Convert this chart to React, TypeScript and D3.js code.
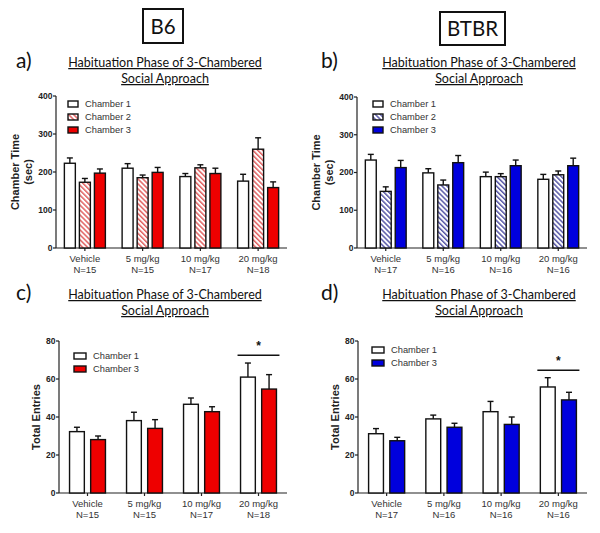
import React from "react";
import * as d3 from "d3";

const groups = ["Vehicle", "5 mg/kg", "10 mg/kg", "20 mg/kg"];
const nB6 = ["N=15", "N=15", "N=17", "N=18"];
const nBTBR = ["N=17", "N=16", "N=16", "N=16"];
const timeSeries = ["Chamber 1", "Chamber 2", "Chamber 3"];
const entrySeries = ["Chamber 1", "Chamber 3"];
const timeTicks = [0, 100, 200, 300, 400];
const entryTicks = [0, 20, 40, 60, 80];

// panel a: B6 chamber time (mean, upper error)
const aMean = [
  [223, 173, 197],
  [210, 185, 199],
  [188, 211, 196],
  [176, 260, 159],
];
const aErr = [
  [237, 183, 208],
  [222, 192, 212],
  [196, 219, 210],
  [194, 290, 174],
];
// panel b: BTBR chamber time
const bMean = [
  [233, 150, 213],
  [199, 167, 226],
  [189, 189, 218],
  [182, 194, 218],
];
const bErr = [
  [248, 162, 232],
  [210, 180, 245],
  [201, 197, 233],
  [195, 204, 238],
];
// panel c: B6 total entries
const cMean = [
  [32.3, 28.1],
  [38.1, 34.0],
  [46.7, 42.8],
  [61.0, 54.7],
];
const cErr = [
  [34.6, 30.0],
  [42.5, 38.6],
  [50.0, 45.4],
  [68.4, 62.3],
];
// panel d: BTBR total entries
const dMean = [
  [31.2, 27.5],
  [39.0, 34.6],
  [42.8, 36.1],
  [55.8, 49.0],
];
const dErr = [
  [33.9, 29.3],
  [41.0, 36.7],
  [48.2, 40.0],
  [60.7, 53.0],
];
const cSig = 72.5;
const dSig = 64.6;

const RED = "#ee0000";
const BLUE = "#0000dd";
const TITLE_FONT = "Lato, 'Open Sans', sans-serif";
const ARIAL = "'Liberation Sans', Arial, sans-serif";

type PanelProps = {
  letter: string;
  letterX: number;
  titleX: number;
  titleY: number;
  x0: number;
  x1: number;
  y0: number;
  y1: number;
  domainMax: number;
  ticks: number[];
  series: string[];
  mean: number[][];
  err: number[][];
  fills: string[];
  ns: string[];
  yLabel: string[];
  yLabelX: number[];
  legendX: number;
  legendY: number;
  legendStep: number;
  legendW: number;
  groupPad: number;
  barPad: number;
  sig?: number;
};

function Panel(p: PanelProps) {
  const x = d3.scaleBand<string>().domain(groups).range([p.x0, p.x1]).paddingInner(p.groupPad).paddingOuter(p.groupPad / 2);
  const xs = d3.scaleBand<string>().domain(p.series).range([0, x.bandwidth()]).paddingInner(p.barPad);
  const y = d3.scaleLinear().domain([0, p.domainMax]).range([p.y0, p.y1]);
  const yMid = (p.y0 + p.y1) / 2;
  return (
    <g>
      <text x={p.letterX} y={p.titleY + 1} fontFamily={TITLE_FONT} fontSize={21} fill="#111">{p.letter}</text>
      <text x={p.titleX} y={p.titleY} textAnchor="middle" fontFamily={TITLE_FONT} fontSize={12.5} fill="#111" textDecoration="underline">Habituation Phase of 3-Chambered </text>
      <text x={p.titleX} y={p.titleY + 16} textAnchor="middle" fontFamily={TITLE_FONT} fontSize={12.5} fill="#111" textDecoration="underline">Social Approach</text>
      {/* y axis */}
      <line x1={p.x0} x2={p.x0} y1={p.y0} y2={p.y1} stroke="#222" strokeWidth={1.2} />
      {p.ticks.map((t) => (
        <g key={t}>
          <line x1={p.x0 - 3} x2={p.x0} y1={y(t)} y2={y(t)} stroke="#222" strokeWidth={1.2} />
          <text x={p.x0 - 3.5} y={y(t)} dy="0.35em" textAnchor="end" fontFamily={ARIAL} fontWeight="bold" fontSize={8.5} fill="#222">{t}</text>
        </g>
      ))}
      {p.yLabel.map((l, i) => (
        <text key={l} transform={`translate(${p.yLabelX[i]},${yMid}) rotate(-90)`} textAnchor="middle" fontFamily={ARIAL} fontWeight="bold" fontSize={11} fill="#222" dy="0.35em">{l}</text>
      ))}
      {/* x axis */}
      <line x1={p.x0} x2={p.x1} y1={p.y0} y2={p.y0} stroke="#222" strokeWidth={1.2} />
      {groups.map((g, gi) => {
        const cx = (x(g) as number) + x.bandwidth() / 2;
        return (
          <g key={g}>
            <line x1={cx} x2={cx} y1={p.y0} y2={p.y0 + 3} stroke="#222" strokeWidth={1.2} />
            <text x={cx} y={p.y0 + 14} textAnchor="middle" fontFamily={ARIAL} fontSize={9.5} fill="#333">{g}</text>
            <text x={cx} y={p.y0 + 25} textAnchor="middle" fontFamily={ARIAL} fontSize={9.5} fill="#333">{p.ns[gi]}</text>
            {p.series.map((s, si) => {
              const bx = (x(g) as number) + (xs(s) as number);
              const bw = xs.bandwidth();
              const top = y(p.mean[gi][si]);
              const et = y(p.err[gi][si]);
              return (
                <g key={s}>
                  <line x1={bx + bw / 2} x2={bx + bw / 2} y1={top} y2={et} stroke="#111" strokeWidth={1.4} />
                  <line x1={bx + bw / 2 - 3} x2={bx + bw / 2 + 3} y1={et} y2={et} stroke="#111" strokeWidth={1.4} />
                  <rect x={bx} y={top} width={bw} height={p.y0 - top} fill={p.fills[si]} stroke="#111" strokeWidth={1.4} />
                </g>
              );
            })}
          </g>
        );
      })}
      {/* legend */}
      {p.series.map((s, si) => (
        <g key={s}>
          <rect x={p.legendX} y={p.legendY + si * p.legendStep - 3} width={p.legendW} height={6} fill={p.fills[si]} stroke="#111" strokeWidth={1.4} />
          <text x={p.legendX + p.legendW + 7} y={p.legendY + si * p.legendStep} dy="0.35em" fontFamily={ARIAL} fontSize={9.3} fill="#333">{s}</text>
        </g>
      ))}
      {p.sig !== undefined && (() => {
        const g = groups[3];
        const gx = x(g) as number;
        const sy = y(p.sig);
        return (
          <g>
            <line x1={gx - 3} x2={gx + x.bandwidth() + 3} y1={sy} y2={sy} stroke="#111" strokeWidth={1.5} />
            <text x={gx + x.bandwidth() / 2} y={sy - 5} textAnchor="middle" fontFamily={ARIAL} fontWeight="bold" fontSize={12} fill="#111">*</text>
          </g>
        );
      })()}
    </g>
  );
}

export default function App() {
  return (
    <svg width={600} height={533} style={{ position: "absolute", left: 0, top: 0, background: "#fff" }}>
      <defs>
        <pattern id="hatchRed" width={3.5} height={3.5} patternUnits="userSpaceOnUse" patternTransform="rotate(45)">
          <rect width={3.5} height={3.5} fill="#fff" />
          <line x1={0} x2={3.5} y1={1} y2={1} stroke="#e05555" strokeWidth={1.4} />
        </pattern>
        <pattern id="hatchBlue" width={3.5} height={3.5} patternUnits="userSpaceOnUse" patternTransform="rotate(45)">
          <rect width={3.5} height={3.5} fill="#fff" />
          <line x1={0} x2={3.5} y1={1} y2={1} stroke="#4a4aa0" strokeWidth={1.4} />
        </pattern>
      </defs>
      <rect x={143} y={9} width={40} height={34} fill="none" stroke="#111" strokeWidth={2} />
      <text x={163} y={33.5} textAnchor="middle" fontFamily={TITLE_FONT} fontSize={20.5} fill="#111">B6</text>
      <rect x={440} y={12} width={65} height={33} fill="none" stroke="#111" strokeWidth={2} />
      <text x={472.5} y={36} textAnchor="middle" fontFamily={TITLE_FONT} fontSize={20.5} fill="#111">BTBR</text>

      <Panel letter="a)" letterX={16} titleX={165} titleY={67} x0={56} x1={287} y0={248} y1={96} domainMax={400}
        ticks={timeTicks} series={timeSeries} mean={aMean} err={aErr} fills={["#fff", "url(#hatchRed)", RED]} ns={nB6}
        yLabel={["Chamber  Time", "(sec)"]} yLabelX={[15, 28]} legendX={68} legendY={104} legendStep={13} legendW={10}
        groupPad={0.29} barPad={0.27} />
      <Panel letter="b)" letterX={321} titleX={479} titleY={67} x0={357} x1={587} y0={248} y1={97} domainMax={400}
        ticks={timeTicks} series={timeSeries} mean={bMean} err={bErr} fills={["#fff", "url(#hatchBlue)", BLUE]} ns={nBTBR}
        yLabel={["Chamber  Time", "(sec)"]} yLabelX={[316, 329]} legendX={373} legendY={104} legendStep={13} legendW={10}
        groupPad={0.29} barPad={0.27} />
      <Panel letter="c)" letterX={16} titleX={165} titleY={299} x0={59} x1={287} y0={493} y1={341} domainMax={80}
        ticks={entryTicks} series={entrySeries} mean={cMean} err={cErr} fills={["#fff", RED]} ns={nB6}
        yLabel={["Total Entries"]} yLabelX={[36]} legendX={74} legendY={356} legendStep={13} legendW={12}
        groupPad={0.37} barPad={0.3} sig={cSig} />
      <Panel letter="d)" letterX={321} titleX={479} titleY={299} x0={358} x1={587} y0={493} y1={341} domainMax={80}
        ticks={entryTicks} series={entrySeries} mean={dMean} err={dErr} fills={["#fff", BLUE]} ns={nBTBR}
        yLabel={["Total Entries"]} yLabelX={[335]} legendX={372} legendY={350} legendStep={13} legendW={12}
        groupPad={0.37} barPad={0.3} sig={dSig} />
    </svg>
  );
}
